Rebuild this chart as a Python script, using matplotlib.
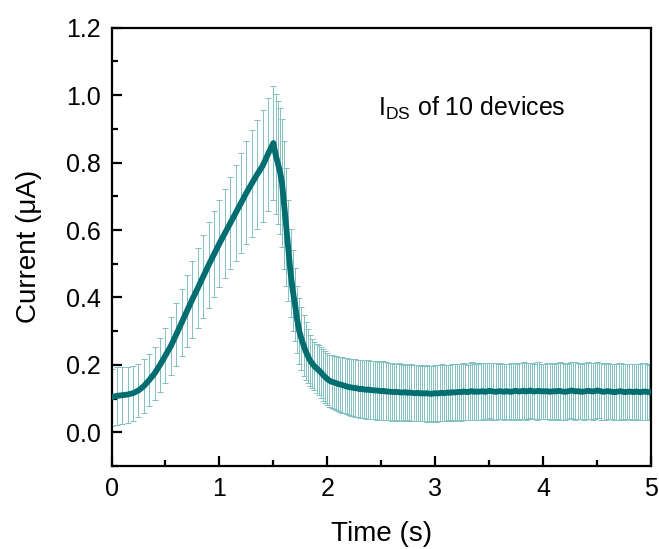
import numpy as np
import matplotlib
matplotlib.use("Agg")
import matplotlib.pyplot as plt
from matplotlib.ticker import MultipleLocator

plt.rcParams['font.family'] = ['Liberation Sans', 'DejaVu Sans']
plt.rcParams['mathtext.fontset'] = 'custom'
plt.rcParams['mathtext.rm'] = 'Liberation Sans'

# rising part, sampled every 0.05 s (0 .. 1.5 s)
t_rise = np.round(np.arange(0, 1.5001, 0.05), 3)
i_rise = [0.104, 0.108, 0.110, 0.112, 0.116, 0.124, 0.137, 0.155, 0.175, 0.200,
          0.228, 0.256, 0.290, 0.325, 0.360, 0.395, 0.428, 0.462, 0.496, 0.528,
          0.560, 0.590, 0.620, 0.650, 0.680, 0.710, 0.738, 0.765, 0.790, 0.825,
          0.858]
err_rise = [0.085, 0.085, 0.084, 0.083, 0.082, 0.080, 0.079, 0.078, 0.079, 0.080,
            0.082, 0.087, 0.093, 0.100, 0.107, 0.114, 0.120, 0.124, 0.127, 0.128,
            0.129, 0.132, 0.137, 0.142, 0.148, 0.153, 0.158, 0.162, 0.166, 0.168,
            0.170]

# decay + plateau, sampled every 0.02 s (1.52 .. 5.0 s)
t_decay = np.round(np.arange(1.52, 5.0001, 0.02), 3)
i_decay = [0.825, 0.800, 0.775, 0.740, 0.675, 0.608, 0.540, 0.472, 0.420, 0.380,
           0.335, 0.300, 0.278, 0.258, 0.240, 0.226, 0.213, 0.204, 0.196, 0.190,
           0.184, 0.178, 0.170, 0.164, 0.158, 0.153, 0.150, 0.148, 0.146, 0.143,
           0.142, 0.140, 0.138, 0.136, 0.134, 0.133, 0.132, 0.131, 0.130, 0.128,
           0.129, 0.127, 0.126, 0.127, 0.125,
           0.125, 0.124, 0.124, 0.123, 0.122, 0.123, 0.121, 0.121, 0.120, 0.120,
           0.119, 0.120, 0.119, 0.118, 0.118, 0.119, 0.117, 0.118, 0.117, 0.116,
           0.116, 0.117, 0.115, 0.116, 0.115, 0.116, 0.115, 0.114, 0.115, 0.116,
           0.115, 0.116, 0.117, 0.116, 0.117, 0.118, 0.117, 0.119, 0.118, 0.119,
           0.120, 0.119, 0.121, 0.120, 0.119, 0.121, 0.122, 0.120, 0.121, 0.120,
           0.121, 0.122, 0.120, 0.121, 0.123, 0.122, 0.121, 0.120, 0.121, 0.122,
           0.121, 0.120, 0.122, 0.121, 0.120, 0.121, 0.123, 0.122, 0.121, 0.122,
           0.123, 0.121, 0.122, 0.124, 0.122, 0.121, 0.122, 0.123, 0.121, 0.122,
           0.121, 0.122, 0.120, 0.121, 0.122, 0.121, 0.123, 0.122, 0.121, 0.120,
           0.121, 0.122, 0.124, 0.123, 0.121, 0.122, 0.121, 0.120, 0.121, 0.122,
           0.123, 0.122, 0.121, 0.122, 0.124, 0.123, 0.121, 0.120, 0.121, 0.122,
           0.121, 0.120, 0.119, 0.120, 0.121, 0.122, 0.120, 0.119, 0.120, 0.121,
           0.120, 0.119, 0.121, 0.120, 0.119, 0.120, 0.121, 0.120, 0.119, 0.120]
err_decay = [0.178, 0.182, 0.186, 0.190, 0.190, 0.175, 0.150, 0.130, 0.120, 0.108,
             0.100, 0.097, 0.094, 0.090, 0.086, 0.080, 0.075, 0.072, 0.072, 0.073,
             0.074, 0.075, 0.076, 0.076, 0.077, 0.077, 0.078, 0.078, 0.079, 0.080,
             0.081, 0.082, 0.082, 0.083, 0.083, 0.084, 0.084, 0.085, 0.085, 0.086,
             0.086, 0.086, 0.087, 0.087, 0.087,
             0.087, 0.086, 0.088, 0.086, 0.085, 0.087, 0.086, 0.084, 0.085, 0.086,
             0.085, 0.084, 0.086, 0.085, 0.083, 0.085, 0.084, 0.083, 0.085, 0.084,
             0.083, 0.084, 0.082, 0.084, 0.083, 0.085, 0.083, 0.084, 0.082, 0.083,
             0.084, 0.083, 0.085, 0.084, 0.083, 0.082, 0.084, 0.083, 0.085, 0.084,
             0.083, 0.085, 0.084, 0.083, 0.082, 0.084, 0.085, 0.083, 0.084, 0.083,
             0.084, 0.083, 0.085, 0.084, 0.082, 0.083, 0.084, 0.085, 0.083, 0.084,
             0.083, 0.084, 0.082, 0.083, 0.085, 0.084, 0.083, 0.082, 0.084, 0.083,
             0.084, 0.085, 0.083, 0.082, 0.084, 0.083, 0.085, 0.084, 0.083, 0.082,
             0.083, 0.084, 0.085, 0.083, 0.082, 0.084, 0.083, 0.085, 0.084, 0.083,
             0.082, 0.084, 0.083, 0.085, 0.086, 0.084, 0.083, 0.082, 0.084, 0.083,
             0.084, 0.083, 0.085, 0.084, 0.083, 0.082, 0.084, 0.083, 0.085, 0.084,
             0.083, 0.082, 0.084, 0.083, 0.085, 0.084, 0.083, 0.084, 0.082, 0.083,
             0.084, 0.083, 0.082, 0.084, 0.083, 0.085, 0.084, 0.083, 0.082, 0.081]

t = np.concatenate([t_rise, t_decay])
current = np.concatenate([i_rise, i_decay])
err = np.concatenate([err_rise, err_decay])

line_color = '#006d70'
bar_color = '#82c0c1'

fig = plt.figure(figsize=(6.59, 5.49), dpi=100)
ax = fig.add_axes([0.1692, 0.1512, 0.8187, 0.7983])

ax.errorbar(t, current, yerr=err, fmt='none', ecolor=bar_color, elinewidth=0.7,
            capsize=2.2, capthick=0.7, zorder=2)
ax.plot(t, current, color=line_color, linewidth=4.2, solid_joinstyle='round',
        solid_capstyle='round', zorder=3)

ax.set_xlim(0, 5)
ax.set_ylim(-0.1, 1.2)
ax.xaxis.set_major_locator(MultipleLocator(1))
ax.xaxis.set_minor_locator(MultipleLocator(0.5))
ax.yaxis.set_minor_locator(MultipleLocator(0.1))
ax.set_yticks([0.0, 0.2, 0.4, 0.6, 0.8, 1.0, 1.2])
ax.set_yticklabels(['0.0', '0.2', '0.4', '0.6', '0.8', '1.0', '1.2'])

ax.tick_params(which='major', direction='in', length=7, width=1.6, labelsize=18, pad=8)
ax.tick_params(which='minor', direction='in', length=4, width=1.6)
for s in ax.spines.values():
    s.set_linewidth(1.6)

ax.set_xlabel('Time (s)', fontsize=20, labelpad=14)
ax.set_ylabel('Current (μA)', fontsize=20, labelpad=17)

ax.text(2.47, 0.962, r'I$_{\mathrm{DS}}$ of 10 devices', fontsize=18, ha='left', va='center')

fig.savefig('out.png', dpi=100)
